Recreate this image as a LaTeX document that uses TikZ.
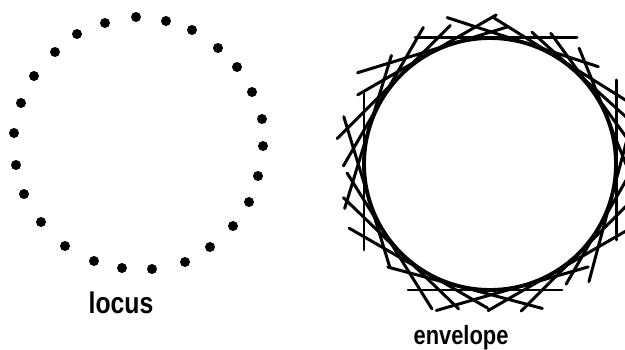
\documentclass[tikz,border=0pt]{standalone}
\usepackage{fontspec}
\setmainfont{Liberation Sans}
\usetikzlibrary{calc}

\begin{document}
\begin{tikzpicture}[x=0.02cm, y=-0.02cm,
    tangent/.style={line width=1.7pt, line cap=round},
    tagtext/.style={inner sep=0pt, font=\bfseries}]
  \useasboundingbox (0,0) rectangle (625,350);

  % Locus: a ring of points
  \foreach \p in {(136,17),(166,21),(192,30),(218,48),(237,67),(252,92),
                  (262,119),(263,146),(258,176),(249,202),(233,226),(210,247),
                  (185,262),(152,269),(122,268),(94,261),(65,246),(41,222),
                  (24,194),(16,165),(14,133),(21,103),(34,76),(55,52),
                  (77,34),(105,23)}
    \fill \p circle[radius=0.1cm];
  \node[tagtext] (locus) at (121,303)
    {\fontsize{17}{17}\selectfont\scalebox{0.83}[1]{locus}};

  % Envelope: circle and its tangent lines (angle / length each way)
  \coordinate (c) at (490,164);
  \draw[line width=2.2pt] (c) circle[radius=2.52cm];
  \foreach \a/\l/\r in {0/84/76, 22/74/85, 36/70/90, 48/57/100, 58/74/85,
                        72/86/73, 90/75/87, 107/100/57, 120/80/80, 135/90/70,
                        150/75/85, 163/85/75, 180/86/71, 197/70/88, 212/92/68,
                        226/78/82, 240/70/90, 255/88/72, 270/72/82, 286/66/92,
                        300/85/75, 315/78/82, 330/92/66, 345/72/88}
    \draw[tangent] ($(c)+(-\a:126)+(-\a-90:\l)$) -- ($(c)+(-\a:126)+(-\a+90:\r)$);
  \node[tagtext] (envelope) at (461,338)
    {\fontsize{15}{15}\selectfont\scalebox{0.83}[1]{envelope}};
\end{tikzpicture}
\end{document}
